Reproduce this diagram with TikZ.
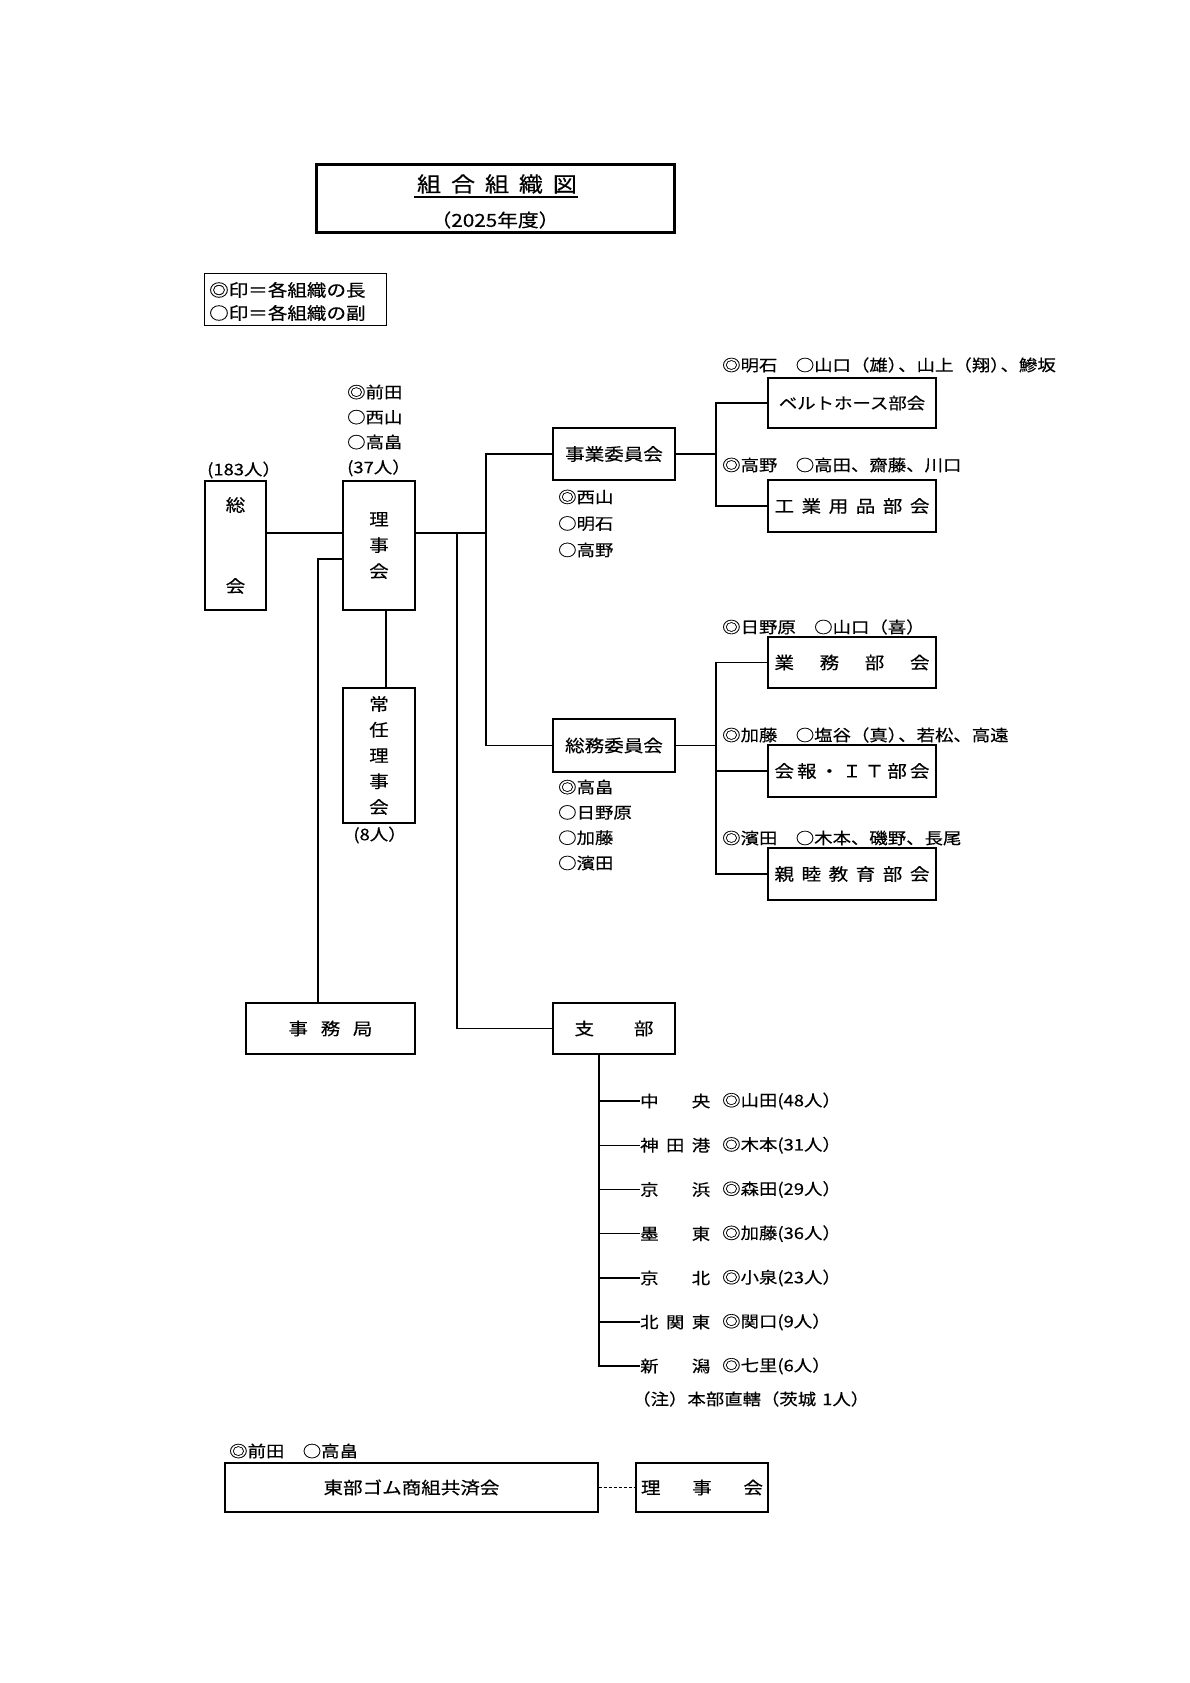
\documentclass[tikz,border=0pt]{standalone}
\usepackage{fontspec}
\setmainfont{Noto Sans CJK JP}[FakeStretch=1.15,FakeBold=0.35]
\newcommand\boxfont{\fontsize{17}{21}\selectfont}
\newcommand\annfont{\fontsize{16}{19}\selectfont}
\begin{document}
\begin{tikzpicture}[x=1pt,y=-1pt,
  box/.style={draw,line width=1.3pt,inner sep=0pt,font=\boxfont},
  ann/.style={anchor=west,inner sep=0pt,font=\annfont},
  conn/.style={line width=1.3pt},
]
\useasboundingbox (0,0) rectangle (1190,1683);
% title
\node[draw,line width=3pt,minimum width=358pt,minimum height=68pt,inner sep=0pt] (titlebox) at (495,198) {};
\node[inner sep=0pt,font=\fontsize{21}{24}\selectfont] (ttl) at (497,184) {\hbox to 160pt{組\hfill 合\hfill 組\hfill 織\hfill 図}};
\coordinate (ul1) at (414,197);
\coordinate (ul2) at (578,197);
\draw[line width=1.2pt] (ul1) -- (ul2);
\node[inner sep=0pt,font=\fontsize{18}{20}\selectfont] (year) at (495,220) {（2025年度）};
% legend
\node[draw,line width=1.3pt,minimum width=182pt,minimum height=52pt,inner sep=0pt] (legend) at (295.5,299.5) {};
\node[anchor=west,inner sep=0pt,align=left,font=\fontsize{17}{23}\selectfont] (legtxt) at (209,301.5) {◎印＝各組織の長\\○印＝各組織の副};
% main boxes
\node[box,minimum width=61pt,minimum height=129pt,align=center,font=\fontsize{17}{81}\selectfont] (sokai) at (235.5,545.5) {総\\会};
\node[ann] (sokaiann) at (207,470) {(183人）};
\node[box,minimum width=72pt,minimum height=129pt,align=center,font=\fontsize{17}{26}\selectfont] (rijikai) at (379,545.5) {理\\事\\会};
\node[ann,align=left,font=\fontsize{16}{25}\selectfont] (rjann) at (347,430.5) {◎前田\\○西山\\○高畠\\(37人）};
\node[box,minimum width=72pt,minimum height=135pt,align=center,font=\fontsize{17}{25.75}\selectfont] (joninn) at (379,755.5) {常\\任\\理\\事\\会};
\node[inner sep=0pt,font=\annfont] (joninnann) at (380,835) {(8人）};
\node[box,minimum width=122pt,minimum height=52pt] (jigyo) at (614,454) {事業委員会};
\node[ann,align=left,font=\fontsize{16}{26.5}\selectfont] (jigyoann) at (558,523.5) {◎西山\\○明石\\○高野};
\node[box,minimum width=122pt,minimum height=53pt] (somu) at (614,745.5) {総務委員会};
\node[ann,align=left,font=\fontsize{16}{25.3}\selectfont] (somuann) at (558,825) {◎高畠\\○日野原\\○加藤\\○濱田};
\node[box,minimum width=169pt,minimum height=51pt] (jimu) at (330.5,1028.5) {\hbox to 84pt{事\hfill 務\hfill 局}};
\node[box,minimum width=122pt,minimum height=51pt] (shibu) at (614,1028.5) {\hbox to 79pt{支\hfill 部}};
% sub-committees
\node[box,minimum width=168pt,minimum height=50pt,font=\annfont] (belt) at (852,403) {ベルトホース部会};
\node[ann] (beltann) at (722,365) {◎明石　○山口（雄）\kern-8pt、山上（翔）\kern-8pt、鰺坂};
\node[box,minimum width=168pt,minimum height=52pt] (kogyo) at (852,506) {\hbox to 155pt{工\hfill 業\hfill 用\hfill 品\hfill 部\hfill 会}};
\node[ann] (kogyoann) at (722,465) {◎高野　○高田、齋藤、川口};
\node[box,minimum width=168pt,minimum height=51pt] (gyomu) at (852,662.5) {\hbox to 155pt{業\hfill 務\hfill 部\hfill 会}};
\node[ann] (gyomuann) at (722,627) {◎日野原　○山口（喜）};
\node[box,minimum width=168pt,minimum height=52pt] (kaiho) at (852,771) {\hbox to 155pt{会\hfill 報\hfill ・\hfill Ｉ\hfill Ｔ\hfill 部\hfill 会}};
\node[ann] (kaihoann) at (722,735) {◎加藤　○塩谷（真）\kern-8pt、若松、高遠};
\node[box,minimum width=168pt,minimum height=52pt] (shinboku) at (852,874) {\hbox to 155pt{親\hfill 睦\hfill 教\hfill 育\hfill 部\hfill 会}};
\node[ann] (shinbokuann) at (722,838) {◎濱田　○木本、磯野、長尾};
% connectors
\coordinate (ja) at (486,533);
\coordinate (jb) at (457,533);
\coordinate (jc) at (318,559);
\coordinate (jd) at (386,610);
\coordinate (je) at (716,455);
\coordinate (jf) at (716,745);
\draw[conn] (sokai.east |- ja) -- (rijikai.west |- ja);
\draw[conn] (rijikai.east |- ja) -- (ja) |- (jigyo.west);
\draw[conn] (ja) |- (somu.west);
\draw[conn] (jb) |- (shibu.west);
\draw[conn] (rijikai.west |- jc) -- (jc) -- (jimu.north -| jc);
\draw[conn] (rijikai.south -| jd) -- (joninn.north -| jd);
\draw[conn] (jigyo.east) -- (jigyo.east -| je);
\draw[conn] (belt.west) -| (je) |- (kogyo.west);
\draw[conn] (somu.east) -- (somu.east -| jf);
\draw[conn] (gyomu.west) -| (jf) |- (shinboku.west);
\draw[conn] (jf |- kaiho.west) -- (kaiho.west);
% branches
\coordinate (tr) at (599,1100);
\foreach \i/\y/\n/\m in {1/1101/{中\hfill 央}/{◎山田(48人）},2/1145.2/{神\hfill 田\hfill 港}/{◎木本(31人）},3/1189.5/{京\hfill 浜}/{◎森田(29人）},4/1233.7/{墨\hfill 東}/{◎加藤(36人）},5/1278/{京\hfill 北}/{◎小泉(23人）},6/1322/{北\hfill 関\hfill 東}/{◎関口(9人）},7/1366/{新\hfill 潟}/{◎七里(6人）}}{
  \node[ann] (b\i) at (640,\y) {\hbox to 70pt{\n}};
  \node[ann] (m\i) at (722,\y) {\m};
}
\draw[conn] (shibu.south -| tr) |- (b7.west);
\foreach \i in {1,...,6}{\draw[conn] (tr |- b\i.west) -- (b\i.west);}
\node[ann] (note) at (632,1399) {（注）本部直轄（茨城\hspace{6pt}1人）};
% mutual aid
\node[box,minimum width=373pt,minimum height=49pt] (tobu) at (411.5,1487.5) {東部ゴム商組共済会};
\node[ann] (tobuann) at (229,1451) {◎前田　○高畠};
\node[box,minimum width=132pt,minimum height=49pt] (toburiji) at (702,1487.5) {\hbox to 122pt{理\hfill 事\hfill 会}};
\draw[line width=1.3pt,dash pattern=on 3pt off 2pt] (tobu.east) -- (toburiji.west);
\end{tikzpicture}
\end{document}
